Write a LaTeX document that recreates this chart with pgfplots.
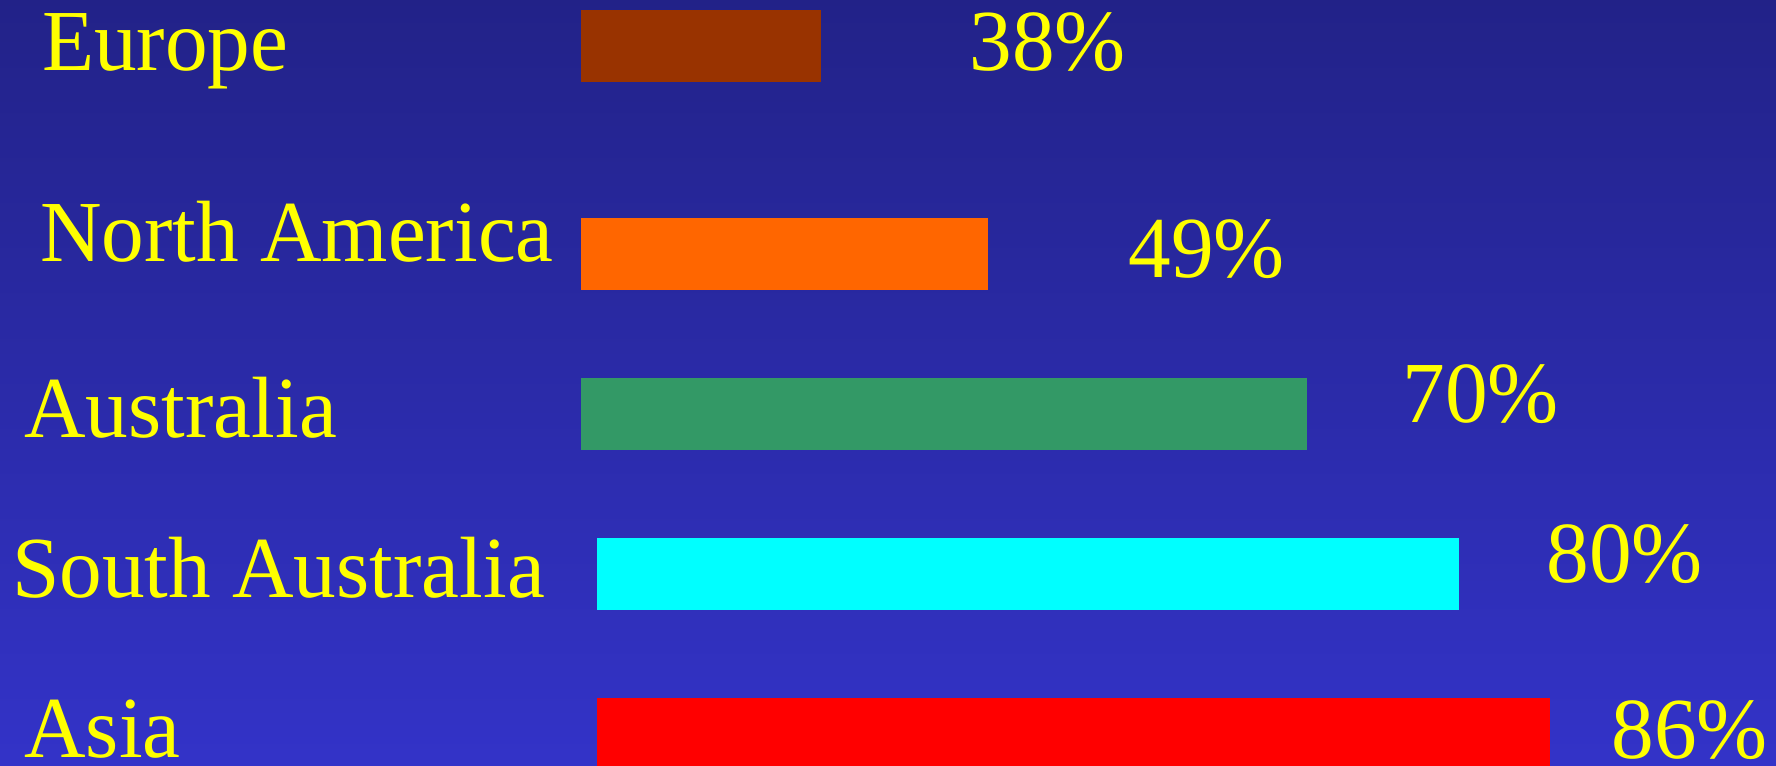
\documentclass[border=0pt]{standalone}
\usepackage{pgfplots}
\pgfplotsset{compat=1.18}
\usepackage{fontspec}
\setmainfont[FakeStretch=0.98]{Liberation Serif}
\definecolor{bgtop}{RGB}{34,34,136}
\definecolor{bgbot}{RGB}{51,51,200}
\definecolor{cbrown}{RGB}{153,51,0}
\definecolor{corange}{RGB}{255,102,0}
\definecolor{cgreen}{RGB}{51,153,102}
\definecolor{ccyan}{RGB}{0,255,255}
\definecolor{cred}{RGB}{255,0,0}
\definecolor{txt}{RGB}{255,255,0}
% 1 px of the reference = 0.25pt
\begin{document}
\begin{tikzpicture}[x=1pt,y=1pt]
\useasboundingbox (0,0) rectangle (444,191.5);
\shade[top color=bgtop, bottom color=bgbot] (0,0) rectangle (444,191.5);
\pgfplotsset{bars/.style={
  at={(#1,0)}, anchor=south west, scale only axis,
  height=191.5pt, hide axis,
  ymin=-0.2875, ymax=4.5, y dir=reverse,
  xmax=100.84}}
% Europe, North America, Australia
\begin{axis}[bars=145.25pt, width=298.75pt, xmin=22.208]
\addplot[xbar, bar shift=0pt, bar width=0.45, fill=cbrown, draw=none] coordinates {(38,0)};
\addplot[xbar, bar shift=0pt, bar width=0.45, fill=corange, draw=none] coordinates {(49,1.3)};
\addplot[xbar, bar shift=0pt, bar width=0.45, fill=cgreen, draw=none] coordinates {(70,2.3)};
\end{axis}
% South Australia, Asia
\begin{axis}[bars=149.25pt, width=294.75pt, xmin=23.261]
\addplot[xbar, bar shift=0pt, bar width=0.45, fill=ccyan, draw=none] coordinates {(80,3.3)};
\addplot[xbar, bar shift=0pt, bar width=0.45, fill=cred, draw=none] coordinates {(86,4.3)};
\end{axis}
\tikzset{lab/.style={anchor=base west, inner sep=0pt, text=txt, font=\fontsize{21.75pt}{26pt}\selectfont}}
\node[lab] at (10.3,173.75) {Europe};
\node[lab] at (9.8,126) {North America};
\node[lab] at (5.9,82) {Australia};
\node[lab] at (2.8,42) {South Australia};
\node[lab] at (5.9,2) {Asia};
\node[lab] at (242.2,173.75) {38\%};
\node[lab] at (281.9,122) {49\%};
\node[lab] at (350.4,85.75) {70\%};
\node[lab] at (386.4,45.75) {80\%};
\node[lab] at (402.7,1.75) {86\%};
\end{tikzpicture}
\end{document}
